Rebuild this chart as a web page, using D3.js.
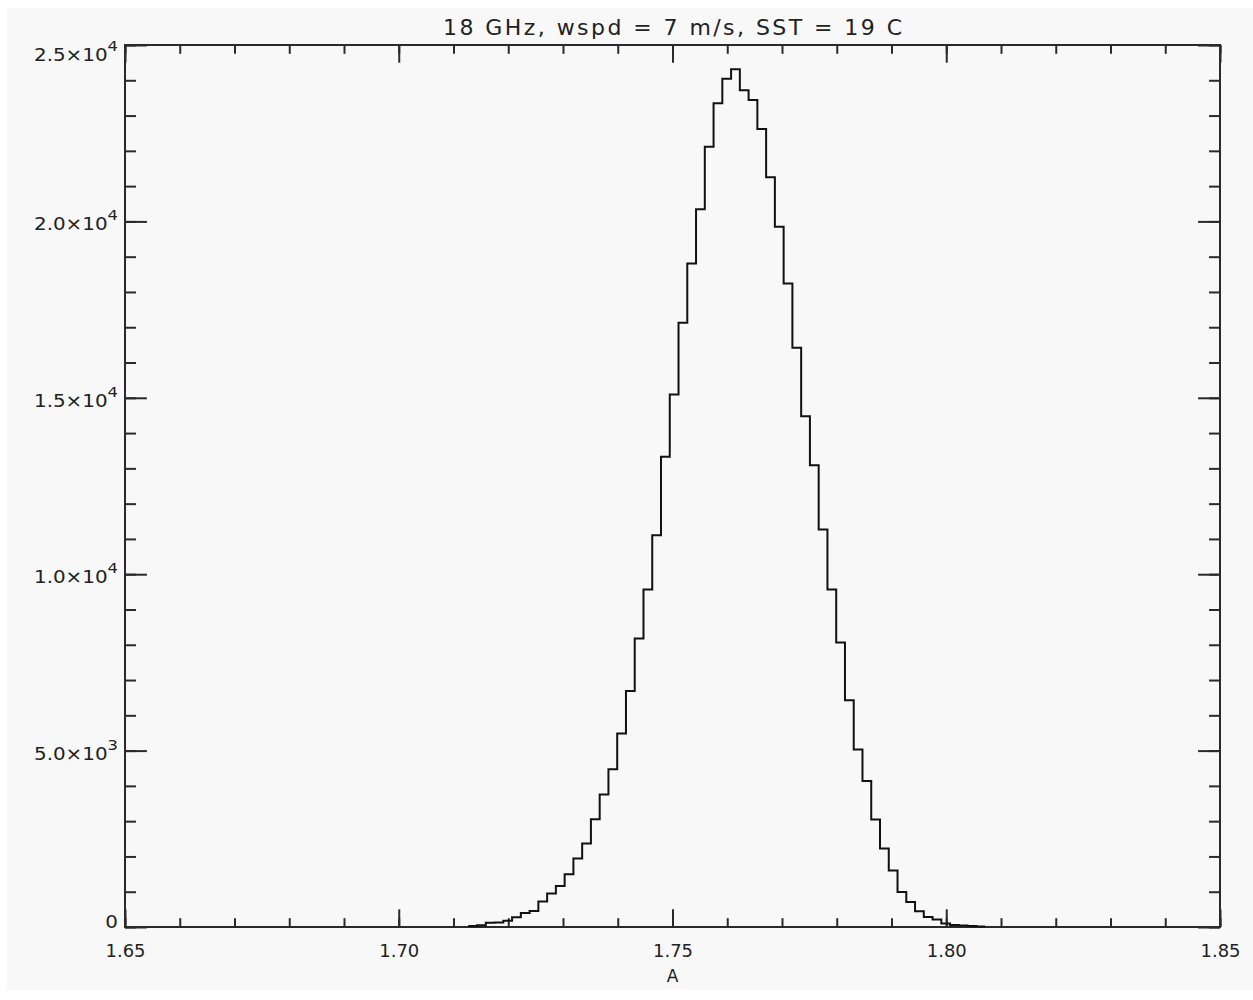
<!DOCTYPE html>
<html>
<head>
<meta charset="utf-8">
<script src="https://cdn.jsdelivr.net/npm/d3@7"></script>
<style>
  html, body { margin: 0; padding: 0; background: #ffffff; }
  svg text { font-family: "DejaVu Sans", sans-serif; fill: #222; }
</style>
</head>
<body>
<svg id="chart" width="1253" height="1000"></svg>
<script>
// histogram of A
const title = "18 GHz, wspd = 7 m/s, SST = 19 C";
const xLabel = "A";
const binStart = 1.7127;
const binWidth = 0.0016;
const counts = [
  30, 50, 120, 130, 180, 275,
  397, 454, 720, 947, 1163, 1494, 1939, 2365, 3054, 3754,
  4471, 5484, 6692, 8177, 9567, 11106, 13326, 15096, 17126, 18810,
  20341, 22116, 23347, 24044, 24311, 23715, 23440, 22618, 21248, 19848,
  18243, 16417, 14480, 13091, 11268, 9567, 8064, 6428, 5030, 4140,
  3045, 2223, 1599, 992, 709, 445, 284, 210, 96,
  60, 40, 25, 15
];
const xTickValues = [1.65, 1.70, 1.75, 1.80, 1.85];
const yTickValues = [0, 5000, 10000, 15000, 20000, 25000];
const yTickMantissa = ["0", "5.0", "1.0", "1.5", "2.0", "2.5"];
const yTickExponent = [null, "3", "4", "4", "4", "4"];

const Viz = {};
Viz.margin = {left: 125, right: 1220, top: 45, bottom: 927};

Viz.svg = d3.select("#chart");

// IDL-style light grey canvas, with a thin white strip top/left/bottom
Viz.svg.append("rect")
  .attr("x", 7).attr("y", 8)
  .attr("width", 1253 - 7).attr("height", 990 - 8)
  .attr("fill", "#f8f8f8");

Viz.x = d3.scaleLinear().domain([1.65, 1.85]).range([Viz.margin.left, Viz.margin.right]);
Viz.y = d3.scaleLinear().domain([0, 25000]).range([Viz.margin.bottom, Viz.margin.top]);

const plotW = Viz.margin.right - Viz.margin.left;
const plotH = Viz.margin.bottom - Viz.margin.top;
const xMajor = plotH * 0.02, xMinor = xMajor / 2;
const yMajor = plotW * 0.02, yMinor = yMajor / 2;

const xMinorTicks = d3.range(0, 21).map(i => 1.65 + i * 0.01);
const yMinorTicks = d3.range(0, 26).map(i => i * 1000);

function styleAxis(g) {
  g.select(".domain").remove();
  g.selectAll("line").attr("stroke", "#2a2a2a").attr("stroke-width", 2);
}

// bottom axis (ticks pointing inward)
Viz.svg.append("g")
  .attr("transform", "translate(0," + Viz.margin.bottom + ")")
  .call(d3.axisBottom(Viz.x).tickValues(xMinorTicks).tickSize(-xMinor).tickFormat(""))
  .call(styleAxis);
Viz.svg.append("g")
  .attr("transform", "translate(0," + Viz.margin.bottom + ")")
  .call(d3.axisBottom(Viz.x).tickValues(xTickValues).tickSize(-xMajor).tickFormat(d3.format(".2f")))
  .call(styleAxis)
  .call(g => g.selectAll("text")
    .attr("y", 30).attr("dy", 0)
    .attr("textLength", 40).attr("lengthAdjust", "spacingAndGlyphs")
    .style("font-size", "17px"));

// top axis
Viz.svg.append("g")
  .attr("transform", "translate(0," + Viz.margin.top + ")")
  .call(d3.axisTop(Viz.x).tickValues(xMinorTicks).tickSize(-xMinor).tickFormat(""))
  .call(styleAxis);
Viz.svg.append("g")
  .attr("transform", "translate(0," + Viz.margin.top + ")")
  .call(d3.axisTop(Viz.x).tickValues(xTickValues).tickSize(-xMajor).tickFormat(""))
  .call(styleAxis);

// left axis
Viz.svg.append("g")
  .attr("transform", "translate(" + Viz.margin.left + ",0)")
  .call(d3.axisLeft(Viz.y).tickValues(yMinorTicks).tickSize(-yMinor).tickFormat(""))
  .call(styleAxis);
Viz.svg.append("g")
  .attr("transform", "translate(" + Viz.margin.left + ",0)")
  .call(d3.axisLeft(Viz.y).tickValues(yTickValues).tickSize(-yMajor).tickFormat(""))
  .call(styleAxis);

// right axis
Viz.svg.append("g")
  .attr("transform", "translate(" + Viz.margin.right + ",0)")
  .call(d3.axisRight(Viz.y).tickValues(yMinorTicks).tickSize(-yMinor).tickFormat(""))
  .call(styleAxis);
Viz.svg.append("g")
  .attr("transform", "translate(" + Viz.margin.right + ",0)")
  .call(d3.axisRight(Viz.y).tickValues(yTickValues).tickSize(-yMajor).tickFormat(""))
  .call(styleAxis);

// y tick labels with superscript exponents (IDL keeps the top one inside)
const yLab = Viz.svg.append("g").attr("class", "ylabels");
yTickValues.forEach((v, i) => {
  const base = yTickExponent[i]
    ? Math.max(Viz.y(v) + 9, Viz.margin.top + 16)
    : Viz.y(v) + 1;
  const t = yLab.append("text")
    .attr("transform", "translate(" + (Viz.margin.left - 7) + "," + base + ") scale(1.17,1)")
    .attr("text-anchor", "end")
    .style("font-size", "17px");
  if (yTickExponent[i]) {
    t.append("tspan").text(yTickMantissa[i] + "\u00d710");
    t.append("tspan").attr("dy", -10).style("font-size", "14px").text(yTickExponent[i]);
  } else {
    t.text(yTickMantissa[i]);
  }
});

// frame
Viz.svg.append("rect")
  .attr("x", Viz.margin.left).attr("y", Viz.margin.top)
  .attr("width", plotW).attr("height", plotH)
  .attr("fill", "none").attr("stroke", "#2a2a2a").attr("stroke-width", 2);

// histogram step line
const pts = counts.map((c, i) => [binStart + i * binWidth, c]);
pts.push([binStart + counts.length * binWidth, counts[counts.length - 1]]);
Viz.line = d3.line()
  .curve(d3.curveStepAfter)
  .x(d => Viz.x(d[0]))
  .y(d => Viz.y(d[1]));
Viz.svg.append("path")
  .datum(pts)
  .attr("d", Viz.line)
  .attr("fill", "none")
  .attr("stroke", "#111")
  .attr("stroke-width", 2);

// title and x label
Viz.svg.append("text")
  .attr("x", (Viz.margin.left + Viz.margin.right) / 2)
  .attr("y", 35)
  .attr("text-anchor", "middle")
  .attr("textLength", 459)
  .attr("lengthAdjust", "spacing")
  .style("font-size", "22px")
  .text(title);

Viz.svg.append("text")
  .attr("x", (Viz.margin.left + Viz.margin.right) / 2)
  .attr("y", 982)
  .attr("text-anchor", "middle")
  .style("font-size", "17px")
  .text(xLabel);
</script>
</body>
</html>
